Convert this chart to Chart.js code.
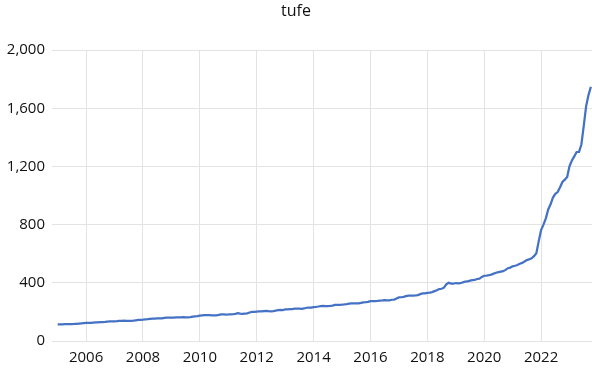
<!DOCTYPE html>
<html>
<head>
<meta charset="utf-8">
<script src="https://cdn.jsdelivr.net/npm/chart.js@4/dist/chart.umd.min.js"></script>
<style>
  body { margin: 0; background: #fff; }
  #wrap { width: 592px; height: 376px; }
</style>
</head>
<body>
<div id="wrap"><canvas id="tufeChart"></canvas></div>
<script>
// aylik tufe endeksi (2003=100), Ocak 2005'ten itibaren
const startYear = 2005;
const tufe = [
  114.5, 114.5, 114.8, 115.6, 116.7, 116.8, 116.9, 117.0, 118.0, 119.7, 121.2, 122.6,
  124.0, 124.2, 124.5, 126.4, 128.6, 128.3, 130.0, 129.4, 130.9, 133.0, 134.3, 134.5,
  135.4, 136.2, 137.6, 139.2, 139.6, 138.7, 138.2, 138.2, 139.6, 142.4, 145.2, 145.8,
  147.1, 148.8, 150.3, 152.4, 154.2, 153.9, 155.6, 155.3, 156.1, 159.4, 160.7, 160.4,
  160.9, 160.4, 162.1, 162.1, 163.2, 163.8, 163.0, 163.3, 163.9, 167.9, 170.0, 170.9,
  174.1, 176.6, 177.6, 178.7, 178.0, 177.0, 176.2, 177.0, 179.1, 182.4, 182.4, 181.9,
  182.6, 183.9, 184.7, 186.3, 190.8, 188.1, 187.3, 188.7, 189.9, 196.3, 199.7, 200.9,
  201.9, 203.0, 203.7, 206.0, 207.1, 204.8, 204.6, 205.9, 208.6, 212.9, 213.7, 213.2,
  216.7, 217.4, 218.8, 219.8, 222.0, 222.4, 223.0, 221.7, 223.8, 228.7, 229.3, 229.0,
  233.5, 234.5, 237.2, 240.4, 241.3, 239.9, 240.4, 241.3, 243.7, 248.4, 248.8, 247.7,
  250.5, 251.2, 254.0, 257.3, 258.5, 258.1, 258.0, 258.4, 262.0, 266.1, 267.5, 269.5,
  274.4, 273.9, 273.9, 275.5, 277.7, 278.8, 280.6, 279.2, 279.4, 283.7, 285.2, 292.5,
  299.7, 300.9, 303.6, 309.0, 312.3, 312.5, 312.5, 313.1, 316.1, 322.0, 327.0, 327.4,
  331.0, 333.2, 336.5, 342.8, 348.9, 357.3, 359.4, 366.5, 390.1, 400.9, 395.1, 393.9,
  398.6, 396.3, 397.3, 403.6, 409.1, 409.6, 415.6, 419.3, 419.6, 426.4, 428.6, 440.5,
  448.8, 450.0, 452.6, 456.7, 463.6, 469.5, 473.5, 477.2, 480.2, 489.1, 500.8, 504.8,
  513.3, 517.3, 522.6, 531.4, 537.1, 546.5, 556.5, 562.7, 569.2, 583.4, 603.0, 687.0,
  763.2, 799.9, 843.6, 904.8, 940.0, 986.5, 1011.9, 1024.0, 1057.0, 1093.7, 1109.7, 1128.5,
  1203.5, 1241.3, 1269.8, 1300.0, 1300.6, 1351.6, 1479.8, 1614.3, 1691.0, 1749.1
];
const yearTicks = [2006, 2008, 2010, 2012, 2014, 2016, 2018, 2020, 2022];
const valueTicks = [0, 400, 800, 1200, 1600, 2000];

const points = tufe.map((v, i) => ({ x: startYear + i / 12, y: v }));

const font = { family: "'Open Sans', sans-serif", size: 15 };

new Chart(document.getElementById('tufeChart'), {
  type: 'line',
  data: {
    datasets: [{
      label: 'tufe',
      data: points,
      borderColor: '#4472C4',
      borderWidth: 2.25,
      pointRadius: 0,
      tension: 0,
      fill: false
    }]
  },
  options: {
    responsive: true,
    maintainAspectRatio: false,
    animation: false,
    layout: { padding: { left: 0, right: 0, top: 2, bottom: 1 } },
    plugins: {
      legend: { display: false },
      tooltip: { enabled: false },
      title: {
        display: true,
        text: 'tufe',
        color: '#111',
        font: { family: "'Open Sans', sans-serif", size: 16, weight: 'normal' },
        padding: { top: 0, bottom: 29 }
      }
    },
    scales: {
      x: {
        type: 'linear',
        min: 2004.8,
        max: 2023.79,
        afterBuildTicks: scale => { scale.ticks = yearTicks.map(v => ({ value: v })); },
        grid: { color: '#e3e3e3', drawTicks: false },
        border: { display: false },
        ticks: { color: '#111', font, padding: 8, maxRotation: 0, autoSkip: false,
                 callback: v => String(v) }
      },
      y: {
        min: 0,
        max: 2000,
        afterBuildTicks: scale => { scale.ticks = valueTicks.map(v => ({ value: v })); },
        afterFit: scale => { scale.width = 52; },
        grid: { color: '#e3e3e3', drawTicks: false },
        border: { display: false },
        ticks: { color: '#111', font, padding: 7,
                 callback: v => v.toLocaleString('en-US') }
      }
    }
  }
});
</script>
</body>
</html>
